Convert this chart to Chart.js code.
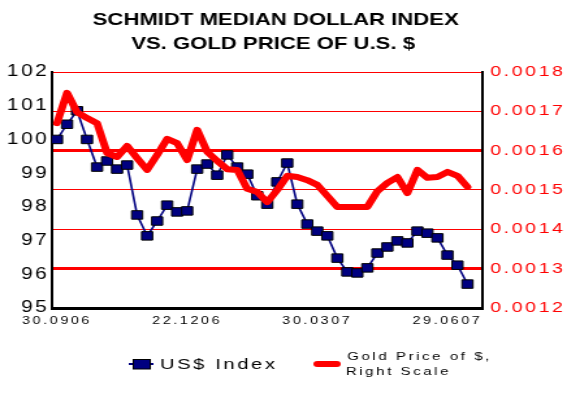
<!DOCTYPE html>
<html>
<head>
<meta charset="utf-8">
<script src="https://cdn.jsdelivr.net/npm/chart.js@4.4.1/dist/chart.umd.min.js"></script>
<style>
  html, body { margin: 0; padding: 0; background: #ffffff; overflow: hidden; }
  #chart { display: block; width: 567px; height: 396px; }
</style>
</head>
<body>
<canvas id="chart" width="436" height="396" style="width:567px;height:396px"></canvas>
<script>
// ---------- data ----------
const titleLines = ['SCHMIDT MEDIAN DOLLAR INDEX', 'VS. GOLD PRICE OF U.S. $'];

// weekly US$ index (left scale)
const usdIndex = [
  100.00, 100.45, 100.85, 100.00, 99.18, 99.36, 99.12, 99.24, 97.76, 97.14,
  97.58, 98.05, 97.85, 97.88, 99.12, 99.27, 98.94, 99.54, 99.18, 98.97,
  98.33, 98.08, 98.74, 99.30, 98.08, 97.49, 97.28, 97.14, 96.48, 96.07,
  96.04, 96.19, 96.63, 96.81, 96.99, 96.93, 97.28, 97.22, 97.08, 96.57,
  96.27, 95.71
];

// weekly gold price of $ (right scale)
const goldPrice = [
  0.001670, 0.001747, 0.001698, 0.001683, 0.001670, 0.001594, 0.001584, 0.001612, 0.001581, 0.001551,
  0.001589, 0.001630, 0.001619, 0.001576, 0.001653, 0.001597, 0.001574, 0.001553, 0.001551, 0.001503,
  0.001495, 0.001469, 0.001500, 0.001536, 0.001533, 0.001525, 0.001513, 0.001485, 0.001457, 0.001457,
  0.001457, 0.001457, 0.001497, 0.001518, 0.001533, 0.001492, 0.001551, 0.001531, 0.001533, 0.001546,
  0.001536, 0.001508
];

// x tick labels and the week slots they sit on
const xTickLabels = ['30.0906', '22.1206', '30.0307', '29.0607'];
const xTickWeeks  = [0, 13, 26, 39];

// week slots (one spare slot at the end, as in the reference)
const weekSlots = Array.from({ length: usdIndex.length + 1 }, (_, i) => 'W' + (i + 1));

// axis ranges
const leftRange  = { min: 95, max: 102, step: 1 };
const rightRange = { min: 0.0012, max: 0.0018, step: 0.0001 };

// legend texts
const legendUsd  = 'US$ Index';
const legendGold = ['Gold Price of $,', 'Right Scale'];

// ---------- chart ----------
const FONT = '"Liberation Sans", Arial, Helvetica, sans-serif';
Chart.defaults.font.family = FONT;

const spacingPlugin = {
  id: 'spacing',
  beforeDraw(chart) { chart.ctx.letterSpacing = '2px'; }
};

const titlePlugin = {
  id: 'sketchTitle',
  afterDraw(chart) {
    const ctx = chart.ctx;
    ctx.save();
    ctx.letterSpacing = '0px';
    ctx.font = 'bold 17px ' + FONT;
    ctx.fillStyle = '#000000';
    ctx.textAlign = 'center';
    ctx.textBaseline = 'alphabetic';
    ctx.fillText(titleLines[0], 212, 25);
    ctx.fillText(titleLines[1], 210, 49);
    ctx.restore();
  }
};

const legendPlugin = {
  id: 'sketchLegend',
  afterDraw(chart) {
    const ctx = chart.ctx;
    const usd = chart.data.datasets.find(d => d.yAxisID === 'y');
    const gold = chart.data.datasets.find(d => d.yAxisID === 'y1');
    ctx.save();
    ctx.letterSpacing = '2px';
    ctx.textAlign = 'left';
    ctx.textBaseline = 'alphabetic';
    // US$ index item
    ctx.strokeStyle = usd.borderColor;
    ctx.lineWidth = 2;
    ctx.beginPath(); ctx.moveTo(99, 364); ctx.lineTo(118, 364); ctx.stroke();
    ctx.fillStyle = usd.pointBackgroundColor;
    ctx.fillRect(102.5, 359, 13, 10);
    ctx.strokeStyle = usd.pointBorderColor;
    ctx.lineWidth = 1;
    ctx.strokeRect(102.5, 359.5, 13, 9.5);
    ctx.fillStyle = '#000000';
    ctx.font = '15.5px ' + FONT;
    ctx.fillText(legendUsd, 123, 369);
    // gold item
    ctx.strokeStyle = gold.borderColor;
    ctx.lineWidth = 6;
    ctx.lineCap = 'round';
    ctx.beginPath(); ctx.moveTo(244, 364); ctx.lineTo(259, 364); ctx.stroke();
    ctx.fillStyle = '#000000';
    ctx.font = '11.5px ' + FONT;
    ctx.fillText(legendGold[0], 267, 360);
    ctx.fillText(legendGold[1], 266, 375);
    ctx.restore();
  }
};

function rightTickKey(ctx) {
  return ctx.tick ? Math.round(ctx.tick.value * 10000) : -1;
}

new Chart(document.getElementById('chart'), {
  type: 'line',
  data: {
    labels: weekSlots,
    datasets: [
      {
        label: legendUsd,
        data: usdIndex,
        yAxisID: 'y',
        order: 1,
        borderColor: '#000080',
        borderWidth: 1.6,
        tension: 0,
        pointStyle: 'rect',
        pointRadius: 6,
        pointBackgroundColor: '#000080',
        pointBorderColor: '#000000',
        pointBorderWidth: 1
      },
      {
        label: legendGold.join(' '),
        data: goldPrice,
        yAxisID: 'y1',
        order: 0,
        borderColor: '#ff0000',
        borderWidth: 6,
        borderJoinStyle: 'round',
        borderCapStyle: 'round',
        tension: 0,
        pointRadius: 0
      }
    ]
  },
  options: {
    responsive: false,
    devicePixelRatio: 1,
    animation: false,
    layout: { padding: { top: 72, left: 0, right: 0, bottom: 0 } },
    plugins: {
      legend: { display: false },
      title: { display: false },
      tooltip: { enabled: false }
    },
    scales: {
      y1: {
        position: 'right',
        min: rightRange.min,
        max: rightRange.max,
        ticks: {
          stepSize: rightRange.step,
          padding: 6,
          color: '#ff0000',
          font: { size: 15 },
          callback: v => Number(v).toFixed(4)
        },
        grid: {
          drawTicks: false,
          color: '#ff0000',
          lineWidth: ctx => { const k = rightTickKey(ctx); return (k === 16 || k === 13) ? 3 : 1; }
        },
        border: { display: true, color: '#000000', width: 2 },
        afterFit: s => { s.width = 65; }
      },
      x: {
        type: 'category',
        offset: true,
        grid: { display: false, drawTicks: false },
        border: { display: true, color: '#000000', width: 3 },
        ticks: {
          autoSkip: false,
          maxRotation: 0,
          minRotation: 0,
          padding: 6,
          color: '#000000',
          font: { size: 11 },
          callback: (v, i) => { const k = xTickWeeks.indexOf(i); return k >= 0 ? xTickLabels[k] : ''; }
        },
        afterFit: s => { s.height = 88; }
      },
      y: {
        position: 'left',
        min: leftRange.min,
        max: leftRange.max,
        ticks: { stepSize: leftRange.step, padding: 2, color: '#000000', font: { size: 16 } },
        grid: { display: false, drawTicks: false },
        border: { display: true, color: '#000000', width: 2 },
        afterFit: s => { s.width = 40; }
      }
    }
  },
  plugins: [spacingPlugin, titlePlugin, legendPlugin]
});
</script>
</body>
</html>
